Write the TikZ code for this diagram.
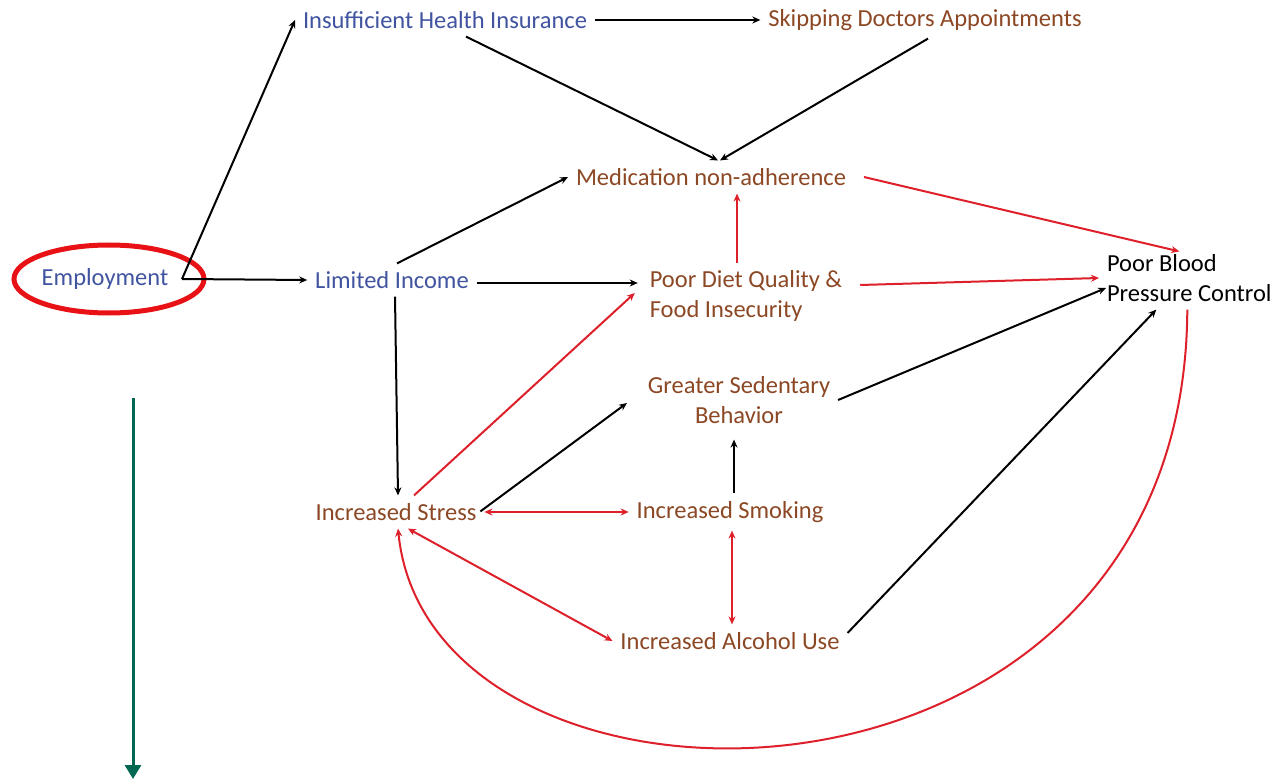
\documentclass[tikz,border=0pt]{standalone}
\usepackage{fontspec}
\setmainfont{Carlito}
\usetikzlibrary{arrows.meta}
\definecolor{cblue}{RGB}{64,84,160}
\definecolor{cbrown}{RGB}{140,72,36}
\definecolor{cred}{RGB}{222,32,42}
\definecolor{ellred}{RGB}{232,18,22}
\definecolor{cgreen}{RGB}{0,104,80}
\tikzset{
  lbl/.style={inner sep=0pt, outer sep=8pt, font=\fontsize{24.5}{30}\selectfont},
  bl/.style={lbl, text=cblue},
  br/.style={lbl, text=cbrown},
  bk/.style={lbl, text=black},
  blk/.style={draw=black, line width=2pt, -{Stealth[length=8pt,width=7pt]}},
  rd/.style={draw=cred, line width=2pt, -{Stealth[length=8pt,width=7pt]}},
  rdd/.style={draw=cred, line width=2pt, {Stealth[length=8pt,width=7pt]}-{Stealth[length=8pt,width=7pt]}},
  grn/.style={draw=cgreen, line width=3pt, -{Triangle[length=14pt,width=16pt]}}
}
\begin{document}
\begin{tikzpicture}[x=1pt,y=-1pt]
\useasboundingbox (0,0) rectangle (1273,783);
\fill[white] (0,0) rectangle (1273,783);
\node[bl] (emp) at (105,279) {Employment};
\node[bl] (ihi) at (445,20) {Insufficient Health Insurance};
\node[br] (skip) at (925,20) {Skipping Doctors Appointments};
\node[br] (med) at (711,177) {Medication non-adherence};
\node[bl] (lim) at (392,280) {Limited Income};
\node[br, align=left] (diet) at (746,296) {Poor Diet Quality \&\\Food Insecurity};
\node[bk, align=left, anchor=west] (bp) at (1099,278) {Poor Blood\\Pressure Control};
\node[br, align=center] (sed) at (739,400) {Greater Sedentary\\Behavior};
\node[br] (str) at (396,512) {Increased Stress};
\node[br] (smk) at (730,512) {Increased Smoking};
\node[br] (alc) at (730,641) {Increased Alcohol Use};
\coordinate (j) at (182,279);
\coordinate (g1) at (133,398);
\coordinate (g2) at (133,779);
% ellipse
\draw[ellred, line width=5pt] ([xshift=4pt]emp.center) ellipse [x radius=95, y radius=34];
% black arrows
\draw[blk] (j) -- (ihi.west);
\draw[blk] (j) -- (lim.west);
\draw[blk] (ihi.east) -- (skip.west);
\draw[blk] ([xshift=21pt]ihi.south) -- ([xshift=7pt]med.north);
\draw[blk] ([xshift=3pt]skip.south) -- ([xshift=9pt]med.north);
\draw[blk] ([xshift=5pt]lim.north) -- (med.west);
\draw[blk] ([yshift=-3pt]lim.east) -- ([xshift=-4pt,yshift=13pt]diet.west);
\draw[blk] ([xshift=3pt]lim.south) -- ([xshift=2pt]str.north);
\draw[blk] ([xshift=-4pt,yshift=-16pt]str.north east) -- ([xshift=-13pt,yshift=-3pt]sed.west);
\draw[blk] ([xshift=4pt]smk.north) -- ([xshift=-5pt,yshift=-8pt]sed.south);
\draw[blk] (sed.east) -- ([xshift=7pt,yshift=-10pt]bp.west);
\draw[blk] ([yshift=8pt]alc.east) -- ([xshift=-33pt]bp.south);
% red arrows
\draw[rd] ([xshift=10pt]med.east) -- ([xshift=-10pt,yshift=-5pt]bp.north);
\draw[rd] ([xshift=-9pt]diet.north) -- ([xshift=26pt]med.south);
\draw[rd] ([xshift=10pt,yshift=11pt]diet.east) -- (bp.west);
\draw[rd] ([xshift=18pt]str.north) -- ([xshift=-7pt,yshift=3pt]diet.west);
\draw[rdd] (str.east) -- (smk.west);
\draw[rdd] ([xshift=2pt]smk.south) -- ([xshift=2pt]alc.north);
\draw[rdd] ([xshift=12pt]str.south) -- (alc.west);
\draw[rd] ([xshift=-2pt]bp.south) .. controls (1185,850) and (430,850) .. ([xshift=2pt]str.south);
% green arrow
\draw[grn] (g1) -- (g2);
\end{tikzpicture}
\end{document}
